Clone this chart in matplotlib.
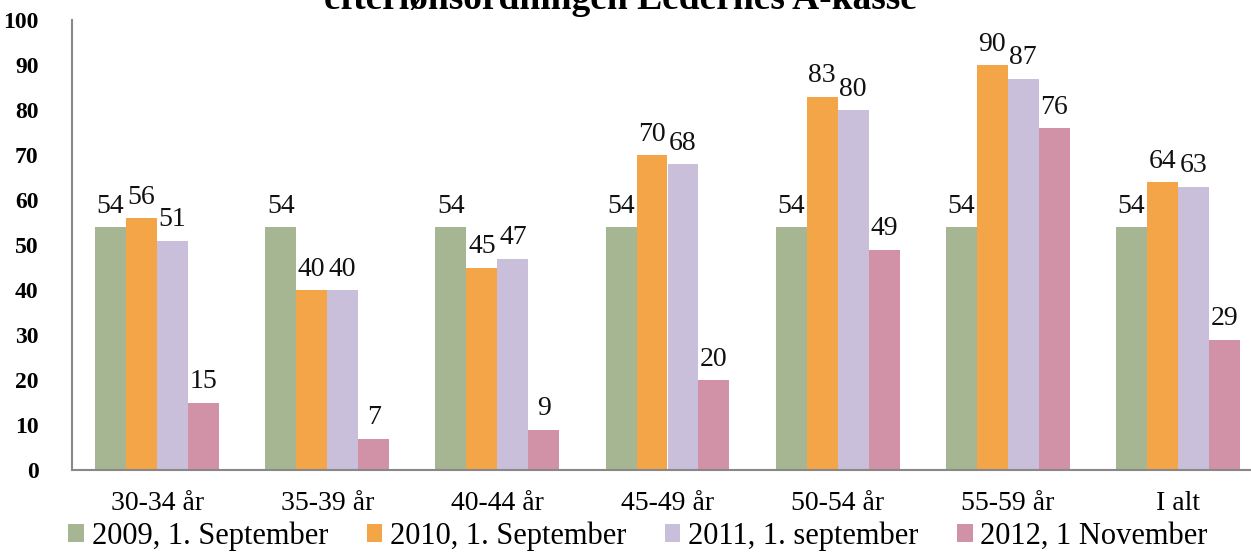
import matplotlib
matplotlib.use("Agg")
import matplotlib.pyplot as plt
import numpy as np

categories = ["30-34 år", "35-39 år", "40-44 år", "45-49 år", "50-54 år", "55-59 år", "I alt"]
series_names = ["2009, 1. September", "2010, 1. September", "2011, 1. september", "2012, 1 November"]
s2009 = [54, 54, 54, 54, 54, 54, 54]
s2010 = [56, 40, 45, 70, 83, 90, 64]
s2011 = [51, 40, 47, 68, 80, 87, 63]
s2012 = [15, 7, 9, 20, 49, 76, 29]
yticks = [0, 10, 20, 30, 40, 50, 60, 70, 80, 90, 100]
title_text = "efterlønsordningen Ledernes A-kasse"

colors = ["#A6B592", "#F3A547", "#C9BFDB", "#D191A7"]
serif = ["Liberation Serif", "DejaVu Serif"]

fig = plt.figure(figsize=(12.51, 5.54), dpi=100)
ax = fig.add_axes([72/1251, 1-470/554, 1191/1251, 450/554])

x = np.arange(len(categories))
w = 0.182
allseries = [s2009, s2010, s2011, s2012]
for i, (vals, c, name) in enumerate(zip(allseries, colors, series_names)):
    pos = x + (i - 1.5) * w
    ax.bar(pos, vals, width=w, color=c, label=name, linewidth=0)
    for p, v in zip(pos, vals):
        ax.text(p, v + 1.8, str(v), ha="center", va="bottom",
                fontsize=20, family=serif, color="#111111")

ax.set_xlim(-0.5, len(categories) - 0.5)
ax.set_ylim(0, 100)
ax.set_yticks(yticks)
ax.set_yticklabels([str(t) for t in yticks], fontsize=17, fontweight="bold", family=serif)
ax.set_xticks(x)
ax.set_xticklabels(categories, fontsize=20, family=serif)
ax.tick_params(axis="y", length=0, pad=24)
ax.tick_params(axis="x", length=0, pad=15)
for s in ["top", "right"]:
    ax.spines[s].set_visible(False)
for s in ["left", "bottom"]:
    ax.spines[s].set_color("#888888")
    ax.spines[s].set_linewidth(1.5)

fig.legend(loc="lower center", bbox_to_anchor=(0.510, -0.044), ncol=4, frameon=False,
           prop={"family": serif, "size": 22}, handlelength=0.52, handleheight=0.52,
           handletextpad=0.25, columnspacing=1.25)

fig.text(0.496, 1 - 9/554, title_text, ha="center", va="baseline",
         fontsize=27, fontweight="bold", family=serif)

fig.savefig("out.png", dpi=100)
